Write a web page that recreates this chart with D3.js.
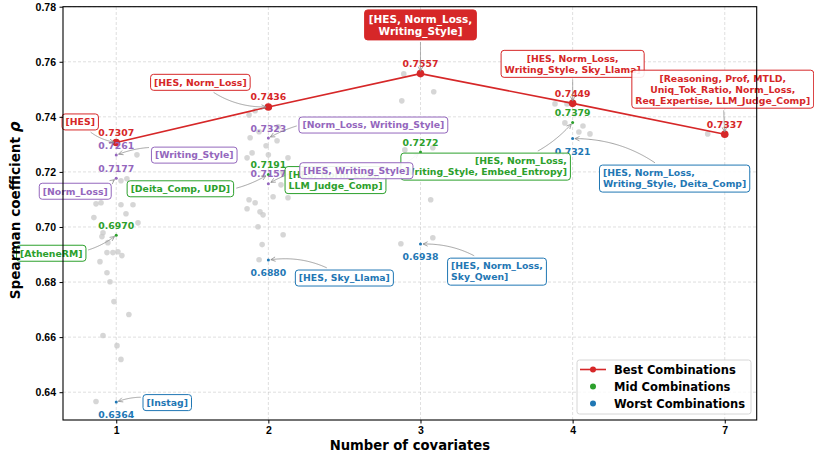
<!DOCTYPE html>
<html>
<head>
<meta charset="utf-8">
<script src="https://cdn.jsdelivr.net/npm/d3@7"></script>
<style>
  body { margin: 0; background: #fff; }
  svg { font-family: "DejaVu Sans", sans-serif; }
  .tick text { font-weight: bold; font-size: 10.5px; fill: #000; }
</style>
</head>
<body>
<div id="chart"></div>
<script>
// Chart data
const xCats = ["1", "2", "3", "4", "7"];
const yTicks = [0.64, 0.66, 0.68, 0.70, 0.72, 0.74, 0.76, 0.78];

// best combination per number of covariates (red line)
const bestVals = [0.7307, 0.7436, 0.7557, 0.7449, 0.7337];
const bestLabels = ["[HES]", "[HES, Norm_Loss]", "[HES, Norm_Loss,\nWriting_Style]",
  "[HES, Norm_Loss,\nWriting_Style, Sky_Llama]",
  "[Reasoning, Prof, MTLD,\nUniq_Tok_Ratio, Norm_Loss,\nReq_Expertise, LLM_Judge_Comp]"];

// mid combinations (green)
const midVals = [0.6970, 0.7191, 0.7272, 0.7379];
const midLabels = ["[AtheneRM]", "[Deita_Comp, UPD]", "[HES, Norm_Loss,\nLLM_Judge_Comp]",
  "[HES, Norm_Loss,\nWriting_Style, Embed_Entropy]"];

// worst combinations (blue)
const worstVals = [0.6364, 0.6880, 0.6938, 0.7321];
const worstLabels = ["[Instag]", "[HES, Sky_Llama]", "[HES, Norm_Loss,\nSky_Qwen]",
  "[HES, Norm_Loss,\nWriting_Style, Deita_Comp]"];

// runner-up combinations (purple)
const runnerCats = [0, 0, 1, 1];
const runnerVals = [0.7261, 0.7177, 0.7323, 0.7157];
const runnerLabels = ["[Writing_Style]", "[Norm_Loss]", "[Norm_Loss, Writing_Style]", "[HES, Writing_Style]"];

// all other combinations (grey, jittered)
const grayCats = [
  0,0,0,0,0,0,0,0,0,0,0,0,0,0,0,0,0,0,0,0,0,0,0,0,0,0,
  1,1,1,1,1,1,1,1,1,1,1,1,1,1,1,1,1,1,1,1,1,1,1,1,
  2,2,2,2,2,2,2,2,
  3,3,3,3,3,3,
  4];
const grayJitter = [
  0.136,0.031,0.07,-0.133,-0.1,0.031,0.11,-0.147,0.064,0.143,-0.087,-0.094,-0.055,-0.061,-0.022,0.011,0.037,-0.107,-0.061,-0.041,-0.015,0.083,-0.087,0.005,0.031,-0.133,
  -0.127,-0.087,-0.061,0.064,-0.12,0.057,-0.015,-0.14,-0.107,0,0.129,0.097,0.083,0.031,0.129,-0.127,-0.14,-0.087,-0.055,-0.035,-0.068,0.097,-0.041,-0.061,
  -0.11,0.087,-0.123,-0.103,0.081,0.067,-0.129,0.081,
  -0.116,-0.037,-0.051,0.068,0.041,0.114,
  -0.112];
const grayVals = [
  0.7262,0.7168,0.7175,0.7084,0.7088,0.7081,0.7081,0.7034,0.7048,0.7015,0.6979,0.6965,0.6943,0.6907,0.6907,0.6910,0.6896,0.6874,0.6834,0.6801,0.6729,0.6682,0.6606,0.6569,0.6519,0.6366,
  0.7407,0.7422,0.7346,0.7364,0.7324,0.7313,0.7295,0.7251,0.7269,0.7262,0.7251,0.7197,0.7153,0.7110,0.7106,0.7099,0.7066,0.7088,0.7055,0.7044,0.7001,0.6972,0.6936,0.6881,
  0.7556,0.7491,0.7458,0.7280,0.7288,0.7099,0.6939,0.6961,
  0.7447,0.7447,0.7378,0.7367,0.7345,0.7338,
  0.7338];

// label placement: [dx, dy] of box centre from the point (px), text align, arrow curvature
const bestLayout = [[-36, -20.5, "middle", 0.2], [-68, -24.6, "middle", 0.2], [0, -48.7, "middle", 0],
  [0, -39.5, "middle", 0], [-2, -45, "middle", 0]];
const midLayout = [[-65, 18, "middle", 0.2], [-88, 14.4, "middle", 0.2], [-85, 28, "start", 0.2], [-87, 44, "end", 0.2]];
const worstLayout = [[51, 0.5, "middle", 0.2], [76, 18, "middle", 0.2], [76.5, 27.6, "start", 0.2], [102, 40, "start", 0.2]];
const runnerLayout = [[78, 0, "middle", 0.2], [-41, 13, "middle", 0.2], [105, -13, "middle", 0.2], [88, -13, "middle", 0.2]];

const RED = "#d62728", GREEN = "#2ca02c", BLUE = "#1f77b4", PURPLE = "#9467bd";

const FRAME_WIDTH = 814, FRAME_HEIGHT = 456;
const MARGINS = {left: 63, right: 57.3, top: 6.7, bottom: 36};

const svg = d3.select("#chart").append("svg")
    .attr("width", FRAME_WIDTH)
    .attr("height", FRAME_HEIGHT);

const x = d3.scaleLinear().domain([-0.35, 4.21]).range([MARGINS.left, FRAME_WIDTH - MARGINS.right]);
const y = d3.scaleLinear().domain([0.6299, 0.78]).range([FRAME_HEIGHT - MARGINS.bottom, MARGINS.top]);

// grid
svg.append("g").selectAll("line.gy").data(yTicks).enter().append("line")
    .attr("x1", x.range()[0]).attr("x2", x.range()[1])
    .attr("y1", d => y(d)).attr("y2", d => y(d))
    .attr("stroke", "#b0b0b0").attr("stroke-opacity", 0.5)
    .attr("stroke-width", 0.8).attr("stroke-dasharray", "3,2");
svg.append("g").selectAll("line.gx").data(d3.range(xCats.length)).enter().append("line")
    .attr("x1", d => x(d)).attr("x2", d => x(d))
    .attr("y1", y.range()[0]).attr("y2", y.range()[1])
    .attr("stroke", "#b0b0b0").attr("stroke-opacity", 0.5)
    .attr("stroke-width", 0.8).attr("stroke-dasharray", "3,2");

// grey combos
svg.append("g").selectAll("circle").data(grayVals).enter().append("circle")
    .attr("cx", (d, i) => x(grayCats[i] + grayJitter[i]))
    .attr("cy", d => y(d))
    .attr("r", 2.8)
    .attr("fill", "#c8c8c8").attr("fill-opacity", 0.75);

// best line
svg.append("path")
    .datum(bestVals)
    .attr("d", d3.line().x((d, i) => x(i)).y(d => y(d)))
    .attr("fill", "none").attr("stroke", RED).attr("stroke-width", 1.6);
svg.append("g").selectAll("circle").data(bestVals).enter().append("circle")
    .attr("cx", (d, i) => x(i)).attr("cy", d => y(d)).attr("r", 3.8).attr("fill", RED);

// small markers
function smallDots(cats, vals, color) {
  svg.append("g").selectAll("circle").data(vals).enter().append("circle")
      .attr("cx", (d, i) => x(cats[i])).attr("cy", d => y(d)).attr("r", 1.5).attr("fill", color);
}
smallDots(d3.range(4), midVals, GREEN);
smallDots(d3.range(4), worstVals, BLUE);
smallDots(runnerCats, runnerVals, PURPLE);

// value labels
function valueLabels(cats, vals, color, off) {
  svg.append("g").selectAll("text").data(vals).enter().append("text")
      .attr("x", (d, i) => x(cats[i]))
      .attr("y", d => y(d) + off)
      .attr("text-anchor", "middle")
      .attr("font-size", "9.3px").attr("font-weight", "bold")
      .attr("fill", color)
      .text(d => d.toFixed(4));
}
valueLabels(d3.range(5), bestVals, RED, -6.5);
valueLabels(d3.range(4), midVals, GREEN, -6.5);
valueLabels(runnerCats, runnerVals, PURPLE, -6.5);
valueLabels(d3.range(4), worstVals, BLUE, 16);

// annotation boxes with arrows
const arrowLayer = svg.append("g");
const boxLayer = svg.append("g");

function qpt(p0, c, p1, t) {
  const u = 1 - t;
  return [u * u * p0[0] + 2 * u * t * c[0] + t * t * p1[0], u * u * p0[1] + 2 * u * t * c[1] + t * t * p1[1]];
}

function drawArrow(p0, p1, rad, box) {
  const dx = p1[0] - p0[0], dy = p1[1] - p0[1];
  const c = [(p0[0] + p1[0]) / 2 - rad * dy, (p0[1] + p1[1]) / 2 + rad * dx];
  const pts = [];
  for (let t = 0; t <= 1.0001; t += 0.01) {
    const p = qpt(p0, c, p1, t);
    const inside = p[0] > box.x0 - 2 && p[0] < box.x1 + 2 && p[1] > box.y0 - 2 && p[1] < box.y1 + 2;
    const dEnd = Math.hypot(p[0] - p1[0], p[1] - p1[1]);
    if (!inside && dEnd > 2) pts.push(p);
  }
  if (pts.length < 2) return;
  arrowLayer.append("path")
      .attr("d", d3.line()(pts))
      .attr("fill", "none").attr("stroke", "#8c8c8c").attr("stroke-width", 0.8);
  const e = pts[pts.length - 1], b = pts[pts.length - 3] || pts[0];
  const ang = Math.atan2(e[1] - b[1], e[0] - b[0]);
  const hl = 4.5, hw = 2.2;
  const h1 = [e[0] - hl * Math.cos(ang) + hw * Math.sin(ang), e[1] - hl * Math.sin(ang) - hw * Math.cos(ang)];
  const h2 = [e[0] - hl * Math.cos(ang) - hw * Math.sin(ang), e[1] - hl * Math.sin(ang) + hw * Math.cos(ang)];
  arrowLayer.append("path")
      .attr("d", d3.line()([h1, e, h2]))
      .attr("fill", "none").attr("stroke", "#8c8c8c").attr("stroke-width", 0.8);
}

function labelBox(cat, val, label, lay, color, filled) {
  const px = x(cat), py = y(val);
  const cx = px + lay[0], cy = py + lay[1];
  const fs = filled ? 10.5 : 9.3, lineH = filled ? 12.3 : 11, padX = filled ? 4 : 3.5, padY = filled ? 2.7 : 2.5;
  const lines = label.split("\n");
  const g = boxLayer.append("g");
  const rect = g.append("rect");
  const texts = lines.map(l => g.append("text")
      .attr("font-size", fs + "px").attr("font-weight", "bold")
      .attr("fill", filled ? "#fff" : color).text(l));
  const widths = texts.map(t => t.node().getComputedTextLength());
  const w = d3.max(widths) + 2 * padX, h = lines.length * lineH + 2 * padY;
  const x0 = cx - w / 2, y0 = cy - h / 2;
  texts.forEach((t, i) => {
    const ty = y0 + padY + lineH * (i + 0.5) + 0.36 * fs;
    let tx = cx, anchor = "middle";
    if (lay[2] === "start") { tx = x0 + padX; anchor = "start"; }
    if (lay[2] === "end") { tx = x0 + w - padX; anchor = "end"; }
    t.attr("x", tx).attr("y", ty).attr("text-anchor", anchor);
  });
  rect.attr("x", x0).attr("y", y0).attr("width", w).attr("height", h)
      .attr("rx", 3).attr("ry", 3)
      .attr("fill", filled ? color : "#fff").attr("fill-opacity", filled ? 1 : 0.9)
      .attr("stroke", color).attr("stroke-width", 1);
  drawArrow([cx, cy], [px, py], lay[3], {x0: x0, x1: x0 + w, y0: y0, y1: y0 + h});
}

midVals.forEach((v, i) => labelBox(i, v, midLabels[i], midLayout[i], GREEN, false));
worstVals.forEach((v, i) => labelBox(i, v, worstLabels[i], worstLayout[i], BLUE, false));
runnerVals.forEach((v, i) => labelBox(runnerCats[i], v, runnerLabels[i], runnerLayout[i], PURPLE, false));
bestVals.forEach((v, i) => labelBox(i, v, bestLabels[i], bestLayout[i], RED, i === 2));

// axes
const xAxis = svg.append("g")
    .attr("transform", "translate(0," + y.range()[0] + ")")
    .call(d3.axisBottom(x).tickValues(d3.range(xCats.length)).tickFormat(i => xCats[i]).tickSize(3.5).tickPadding(3.5).tickSizeOuter(0));
const yAxis = svg.append("g")
    .attr("transform", "translate(" + x.range()[0] + ",0)")
    .call(d3.axisLeft(y).tickValues(yTicks).tickFormat(d3.format(".2f")).tickSize(3.5).tickPadding(3.5).tickSizeOuter(0));
[xAxis, yAxis].forEach(a => { a.select(".domain").remove(); a.selectAll(".tick line").attr("stroke", "#000"); });

// frame
svg.append("rect")
    .attr("x", x.range()[0]).attr("y", y.range()[1])
    .attr("width", x.range()[1] - x.range()[0]).attr("height", y.range()[0] - y.range()[1])
    .attr("fill", "none").attr("stroke", "#000").attr("stroke-width", 1.1);

// axis titles
svg.append("text")
    .attr("x", (x.range()[0] + x.range()[1]) / 2).attr("y", 450)
    .attr("text-anchor", "middle").attr("font-size", "13.2px").attr("font-weight", "bold")
    .text("Number of covariates");
const yl = svg.append("text")
    .attr("transform", "translate(20," + ((y.range()[0] + y.range()[1]) / 2 - 3) + ") rotate(-90)")
    .attr("text-anchor", "middle").attr("font-size", "13.6px").attr("font-weight", "bold");
yl.append("tspan").text("Spearman coefficient ");
yl.append("tspan").attr("font-style", "italic").attr("font-size", "15px").text("ρ");

// legend
const legend = svg.append("g").attr("transform", "translate(577,360)");
legend.append("rect").attr("width", 174).attr("height", 54).attr("rx", 2.5)
    .attr("fill", "#fff").attr("fill-opacity", 0.8).attr("stroke", "#ccc").attr("stroke-width", 0.8);
const legendItems = ["Best Combinations", "Mid Combinations", "Worst Combinations"];
const legendColors = [RED, GREEN, BLUE];
legendItems.forEach((name, i) => {
  const ly = 9.5 + i * 17;
  if (i === 0) legend.append("line").attr("x1", 3).attr("x2", 29).attr("y1", ly).attr("y2", ly)
      .attr("stroke", RED).attr("stroke-width", 1.6);
  legend.append("circle").attr("cx", 16).attr("cy", ly).attr("r", 3).attr("fill", legendColors[i]);
  legend.append("text").attr("x", 37).attr("y", ly + 4.1)
      .attr("font-size", "11.5px").attr("font-weight", "bold").text(name);
});
</script>
</body>
</html>
